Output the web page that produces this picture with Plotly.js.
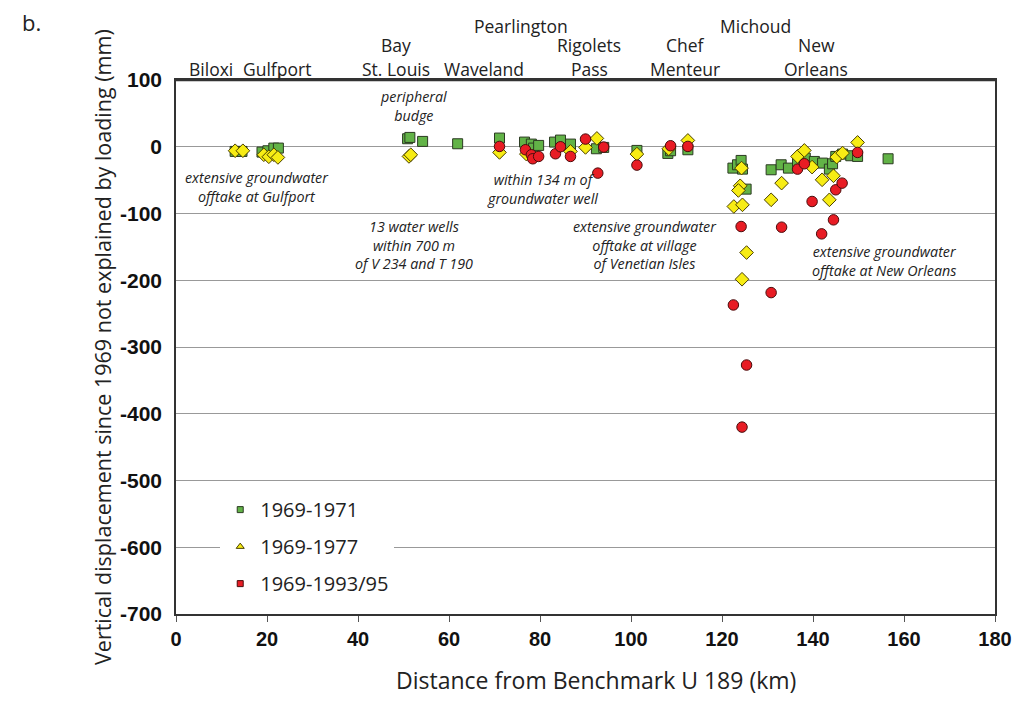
<!DOCTYPE html>
<html>
<head>
<meta charset="utf-8">
<script src="https://cdn.plot.ly/plotly-3.0.1.min.js"></script>
<style>html,body{margin:0;padding:0;background:#fff;}#chart{width:1028px;height:707px;}</style>
</head>
<body>
<div id="chart"></div>
<script>
// 1969-1971 (green squares)
const g71x = [13.0,14.5,18.9,20.2,21.5,22.5,50.9,51.4,54.2,61.9,71.1,76.6,78.1,78.6,79.7,83.2,84.5,86.7,92.4,94.0,101.3,108.1,108.7,112.5,122.4,123.4,124.2,124.5,125.3,130.8,133.0,134.6,136.6,138.3,140.3,142.1,143.6,144.3,145.0,146.5,148.3,149.8,156.5];
const g71y = [-7,-7,-8,-6,-2,-2,12,14,8,4.5,13,7,4,-2,2,7,10,4,-3,-1,-5.5,-10,-6,-4.5,-32,-27,-20.5,-33.5,-63.5,-34.5,-27,-32,-22,-17,-22,-24.5,-33.5,-25.5,-14.5,-11,-13.5,-14.5,-18];
// 1969-1977 (yellow diamonds)
const y77x = [13.0,14.7,19.3,20.4,21.5,22.4,51.2,51.6,71.1,77.0,86.7,90.0,92.5,101.3,108.3,112.5,124.3,124.0,123.6,122.6,124.5,125.4,124.4,130.8,133.1,136.6,138.1,139.8,142.0,144.5,143.6,145.2,146.5,149.8];
const y77y = [-6,-6,-12,-15,-12,-16,-14.5,-12,-8.5,-11,-7,-1,12.5,-11,-3,9.5,-32,-58.5,-65.5,-89.5,-87,-158.5,-198.5,-79.5,-54.5,-14.5,-5.5,-30.5,-49.5,-43.5,-79.5,-15.5,-9.5,6.5];
// 1969-1993/95 (red circles)
const r93x = [71.1,76.8,78.1,78.4,79.7,83.4,84.5,86.7,90.0,94.0,92.7,101.3,108.7,112.5,124.2,122.5,125.4,124.4,130.8,133.1,136.6,138.1,139.8,141.9,144.5,145.0,146.4,149.8];
const r93y = [0.5,-4.5,-12,-18,-14.5,-10.5,0,-14.5,11.5,-0.5,-39.5,-27.5,1.5,0.5,-119.5,-237,-327,-420,-218.5,-120.5,-33.5,-25.5,-82,-130.5,-109.5,-64.5,-54.5,-8.5];

const seriesNames = ['1969-1971','1969-1977','1969-1993/95'];
const xTicks = [0,20,40,60,80,100,120,140,160,180];
const yTickVals = [100,0,-100,-200,-300,-400,-500,-600,-700];
const yTickText = ['100','0','-100','-200','-300','-400','-500','-600','-700'];

// place labels along the top [text, x(km), row]
const placeLabels = [
  ['Biloxi',7.8,0],['Gulfport',22.2,0],['Bay',48.4,1],['St. Louis',48.4,0],['Waveland',67.6,0],
  ['Pearlington',75.8,2],['Rigolets',90.8,1],['Pass',90.8,0],['Chef',111.9,1],['Menteur',111.9,0],
  ['Michoud',127.4,2],['New',140.7,1],['Orleans',140.7,0]
];
// italic notes [text, x(km), y(mm)]
const notes = [
  ['peripheral<br>budge',52.3,61],
  ['extensive groundwater<br>offtake at Gulfport',17.8,-60],
  ['within 134 m of<br>groundwater well',80.6,-64],
  ['13 water wells<br>within 700 m<br>of V 234 and T 190',52.2,-147],
  ['extensive groundwater<br>offtake at village<br>of Venetian Isles',103.0,-147],
  ['extensive groundwater<br>offtake at New Orleans',155.8,-171]
];

const mk = (sym,fill,line,size)=>({symbol:sym,size:size,color:fill,line:{color:line,width:1}});
const traces = [
  {x:g71x,y:g71y,type:'scatter',mode:'markers',name:seriesNames[0],showlegend:false,marker:mk('square','#62b347','#2b3a22',10)},
  {x:y77x,y:y77y,type:'scatter',mode:'markers',name:seriesNames[1],showlegend:false,marker:mk('diamond','#f7ec14','#4a4000',10.5)},
  {x:r93x,y:r93y,type:'scatter',mode:'markers',name:seriesNames[2],showlegend:false,marker:mk('circle','#e81c24','#4a0c0c',10.5)},
  {x:[null],y:[null],type:'scatter',mode:'markers',name:seriesNames[0],legendgroup:'a',marker:mk('square','#62b347','#2b3a22',6)},
  {x:[null],y:[null],type:'scatter',mode:'markers',name:seriesNames[1],legendgroup:'b',marker:mk('triangle-up','#f7ec14','#4a4000',7)},
  {x:[null],y:[null],type:'scatter',mode:'markers',name:seriesNames[2],legendgroup:'c',marker:mk('square','#e81c24','#4a0c0c',6)}
];

const rowY = [1.0206,1.0655,1.101];
const annotations = [];
placeLabels.forEach(p=>annotations.push({text:p[0],x:p[1],xref:'x',y:rowY[p[2]],yref:'paper',showarrow:false,xanchor:'center',yanchor:'middle',font:{family:'Open Sans',size:17.5,color:'#222'}}));
notes.forEach(n=>annotations.push({text:n[0],x:n[1],xref:'x',y:n[2],yref:'y',showarrow:false,xanchor:'center',yanchor:'middle',align:'center',font:{family:'Open Sans',size:14.3,color:'#222',style:'italic'}}));
annotations.push({text:'b.',x:0,xref:'paper',xanchor:'left',xshift:-156,y:1,yref:'paper',yanchor:'middle',yshift:58,showarrow:false,font:{family:'Open Sans',size:22,color:'#222'}});
annotations.push({text:'Vertical displacement since 1969 not explained by loading (mm)',textangle:-90,x:0,xref:'paper',xanchor:'center',xshift:-74,y:0.5,yref:'paper',yanchor:'middle',showarrow:false,font:{family:'Open Sans',size:21.5,color:'#222'}});
annotations.push({text:'Distance from Benchmark U 189 (km)',x:0.5,xref:'paper',xanchor:'center',xshift:10,y:0,yref:'paper',yanchor:'middle',yshift:-66,showarrow:false,font:{family:'Open Sans',size:23,color:'#222'}});

const layout = {
  width:1028,height:707,
  margin:{l:176,r:33,t:80,b:93},
  paper_bgcolor:'#fff',plot_bgcolor:'#fff',
  showlegend:true,
  legend:{x:0.054,y:0.232,xanchor:'left',yanchor:'top',bgcolor:'#fff',font:{family:'Open Sans',size:20,color:'#222'},tracegroupgap:8},
  xaxis:{range:[0,180],tickvals:xTicks,ticks:'outside',ticklen:6,tickcolor:'#555',showgrid:false,zeroline:false,
    showline:true,linecolor:'#333',linewidth:1.5,mirror:true,
    tickfont:{family:'Liberation Sans',size:20,color:'#111',weight:'bold'}},
  yaxis:{range:[-700,100],tickvals:yTickVals,ticktext:yTickText,ticks:'',showgrid:true,gridcolor:'#999',gridwidth:1,zeroline:false,
    showline:true,linecolor:'#333',linewidth:1.5,mirror:true,ticklabelstandoff:8,
    tickfont:{family:'Liberation Sans',size:21,color:'#111',weight:'bold'}},
  shapes:[
    {type:'line',xref:'paper',yref:'paper',x0:0,x1:1,y0:1,y1:1,line:{color:'#333',width:2.5}},
    {type:'line',xref:'x',yref:'paper',x0:22.8,x1:22.8,y0:1,y1:1.012,line:{color:'#333',width:1.2}}
  ],
  annotations:annotations
};
Plotly.newPlot('chart',traces,layout,{displayModeBar:false});
</script>
</body>
</html>
